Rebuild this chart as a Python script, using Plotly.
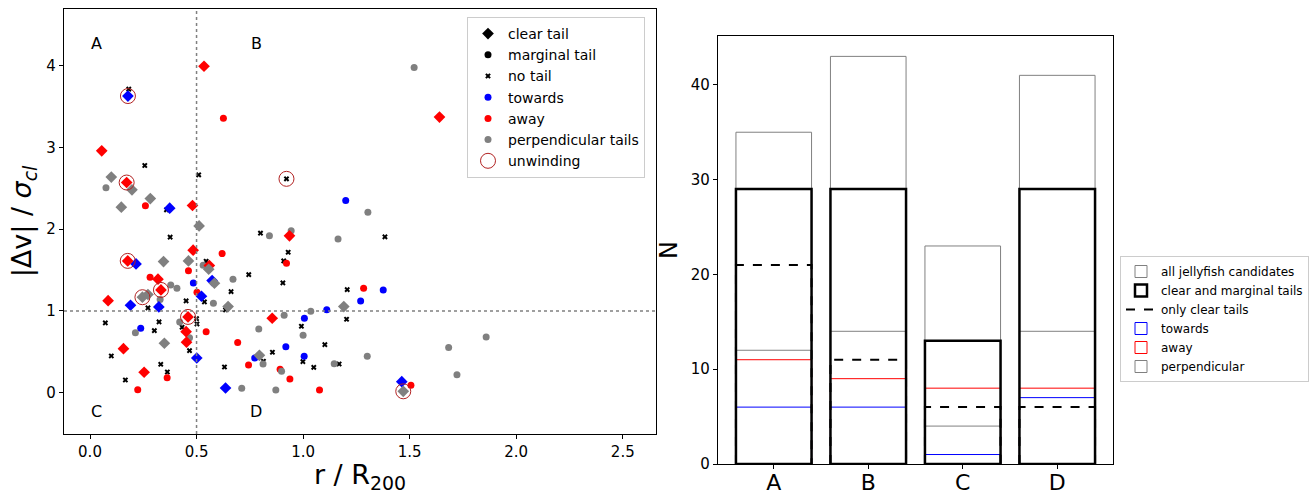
import plotly.graph_objects as go

# ---------------- scatter data (r / R200, |dv| / sigma_cl) ----------------
clear_tow_x = [0.178, 0.374, 0.216, 0.523, 0.573, 0.190, 0.323, 0.501, 0.636, 1.463]
clear_tow_y = [3.626, 2.255, 1.574, 1.179, 1.370, 1.069, 1.048, 0.424, 0.057, 0.135]

marg_tow_x = [1.200, 1.376, 1.270, 0.485, 1.111, 1.006, 0.238, 0.919, 1.005, 0.773]
marg_tow_y = [2.349, 1.256, 1.122, 1.342, 1.015, 0.910, 0.787, 0.563, 0.445, 0.424]

clear_away_x = [0.535, 0.055, 0.172, 0.481, 1.640, 0.484, 0.936, 0.177, 0.560, 0.319,
                0.333, 0.085, 0.460, 0.855, 0.451, 0.453, 0.157, 0.254]
clear_away_y = [3.990, 2.957, 2.569, 2.288, 3.369, 1.742, 1.917, 1.611, 1.554, 1.387,
                1.256, 1.125, 0.926, 0.910, 0.746, 0.617, 0.538, 0.250]

marg_away_x = [0.626, 0.260, 0.620, 0.922, 0.462, 0.282, 0.502, 1.284, 0.545, 0.693,
               0.744, 0.892, 0.938, 0.362, 0.224, 1.077, 1.506]
marg_away_y = [3.356, 2.284, 1.700, 1.583, 1.489, 1.411, 1.228, 1.277, 0.746, 0.612,
               0.339, 0.286, 0.168, 0.184, 0.037, 0.033, 0.090]

clear_perp_x = [0.100, 0.197, 0.283, 0.147, 0.512, 0.345, 0.462, 0.557, 0.584, 0.246,
                0.272, 0.648, 1.191, 0.349, 0.795, 1.470]
clear_perp_y = [2.635, 2.480, 2.373, 2.268, 2.039, 1.603, 1.611, 1.509, 1.338, 1.167,
                1.200, 1.052, 1.052, 0.604, 0.457, 0.017]

marg_perp_x = [0.075, 1.521, 1.304, 1.164, 0.842, 0.944, 0.531, 0.671, 0.379, 0.408,
               0.329, 0.579, 1.036, 0.911, 0.421, 0.213, 0.467, 1.000, 0.792, 0.812,
               1.146, 0.899, 0.712, 0.872, 1.859, 1.683, 1.301, 1.722]
marg_perp_y = [2.504, 3.976, 2.207, 1.880, 1.917, 1.978, 1.558, 1.387, 1.317, 1.277,
               1.138, 1.093, 0.996, 0.946, 0.865, 0.734, 0.673, 0.702, 0.779, 0.351,
               0.355, 0.261, 0.054, 0.033, 0.681, 0.551, 0.445, 0.220]

no_tail_x = [0.182, 0.257, 0.510, 0.922, 0.359, 0.376, 0.800, 0.930, 0.545, 0.909,
             0.745, 0.905, 0.662, 1.207, 1.384, 0.272, 0.451, 0.537, 0.636, 1.204,
             0.500, 0.502, 0.072, 0.324, 0.432, 0.302, 0.992, 1.102, 0.100, 0.467,
             0.856, 0.814, 0.999, 1.050, 1.169, 0.332, 0.631, 0.363, 0.166]
no_tail_y = [3.710, 2.777, 2.663, 2.614, 2.235, 1.901, 1.950, 1.717, 1.607, 1.611,
             1.443, 1.342, 1.236, 1.260, 1.905, 1.036, 1.122, 1.110, 1.012, 0.898,
             0.905, 0.840, 0.853, 0.865, 0.800, 0.758, 0.812, 0.587, 0.449, 0.514,
             0.494, 0.384, 0.379, 0.310, 0.351, 0.347, 0.314, 0.253, 0.155]

unwind_x = [0.178, 0.172, 0.177, 0.333, 0.246, 0.460, 0.922, 1.470]
unwind_y = [3.626, 2.569, 1.611, 1.256, 1.167, 0.926, 2.614, 0.017]

# ---------------- bar data ----------------
regions = ["A", "B", "C", "D"]
n_all = [35, 43, 23, 41]
n_clear_marg = [29, 29, 13, 29]
n_clear = [21, 11, 6, 6]
n_towards = [6, 6, 1, 7]
n_away = [11, 9, 8, 8]
n_perp = [12, 14, 4, 14]

BLUE, RED, GRAY = "#0000ff", "#ff0000", "#808080"
FONT = "DejaVu Sans"
W = 0.8

fig = go.Figure()

def sc(x, y, name, symbol, color, size, show=True, line=None, legend="legend"):
    m = dict(symbol=symbol, color=color, size=size)
    if line:
        m["line"] = line
    fig.add_trace(go.Scatter(x=x, y=y, mode="markers", name=name, marker=m,
                             showlegend=show, xaxis="x", yaxis="y", legend=legend))

# legend-only entries for tail type
sc([None], [None], "clear tail", "diamond", "black", 9)
sc([None], [None], "marginal tail", "circle", "black", 7)
sc(no_tail_x, no_tail_y, "no tail", "x", "black", 5)
sc(marg_tow_x, marg_tow_y, "towards", "circle", BLUE, 7)
sc(marg_away_x, marg_away_y, "away", "circle", RED, 7)
sc(marg_perp_x, marg_perp_y, "perpendicular tails", "circle", GRAY, 7)
sc(clear_tow_x, clear_tow_y, "clear towards", "diamond", BLUE, 9, show=False)
sc(clear_away_x, clear_away_y, "clear away", "diamond", RED, 9, show=False)
sc(clear_perp_x, clear_perp_y, "clear perpendicular", "diamond", GRAY, 9, show=False)
sc(unwind_x, unwind_y, "unwinding", "circle-open", "#b22222", 15,
   line=dict(color="#b22222", width=1))

xs = list(range(len(regions)))

def bar(vals, name, color, width, rank):
    fig.add_trace(go.Bar(x=xs, y=vals, width=W, name=name, xaxis="x2", yaxis="y2",
                         marker=dict(color="rgba(0,0,0,0)", line=dict(color=color, width=width)),
                         legend="legend2", legendrank=rank))

bar(n_all, "all jellyfish candidates", GRAY, 1, 1)
bar(n_towards, "towards", BLUE, 1, 4)
bar(n_away, "away", RED, 1, 5)
bar(n_perp, "perpendicular", GRAY, 1, 6)

# dashed outline for clear-only counts
dx, dy = [], []
for i, v in zip(xs, n_clear):
    dx += [i - W / 2, i - W / 2, i + W / 2, i + W / 2, None]
    dy += [0, v, v, 0, None]
fig.add_trace(go.Scatter(x=dx, y=dy, mode="lines", name="only clear tails",
                         line=dict(color="black", width=2, dash="dash"),
                         xaxis="x2", yaxis="y2", legend="legend2", legendrank=3))
bar(n_clear_marg, "clear and marginal tails", "black", 2.5, 2)

# quadrant lines
fig.add_shape(type="line", xref="x", yref="y domain", x0=0.5, x1=0.5, y0=0, y1=1,
              line=dict(color="gray", width=1.5, dash="dot"))
fig.add_shape(type="line", xref="x domain", yref="y", x0=0, x1=1, y0=1, y1=1,
              line=dict(color="gray", width=1.5, dash="dot"))

for lab, ax, ay in [("A", 0.03, 4.27), ("B", 0.78, 4.27), ("C", 0.03, -0.23), ("D", 0.78, -0.23)]:
    fig.add_annotation(x=ax, y=ay, xref="x", yref="y", text=lab, showarrow=False,
                       font=dict(size=16, color="black", family=FONT))

axis_common = dict(showline=True, linecolor="black", linewidth=1.2, mirror=True,
                   ticks="outside", ticklen=4, tickcolor="black", showgrid=False,
                   zeroline=False, automargin=False,
                   tickfont=dict(size=15, color="black", family=FONT))

fig.update_layout(
    width=1315, height=494,
    margin=dict(l=0, r=0, t=0, b=0, autoexpand=False),
    paper_bgcolor="white", plot_bgcolor="white",
    font=dict(family=FONT, color="black"),
    barmode="overlay",
    xaxis=dict(domain=[64 / 1315, 656 / 1315], range=[-0.122, 2.656],
               tickvals=[0, 0.5, 1.0, 1.5, 2.0, 2.5],
               ticktext=["0.0", "0.5", "1.0", "1.5", "2.0", "2.5"],
               title=dict(text="r / R<sub>200</sub>", font=dict(size=27, family=FONT), standoff=8),
               anchor="y", **axis_common),
    yaxis=dict(domain=[1 - 434 / 494, 1 - 9 / 494], range=[-0.505, 4.69],
               tickvals=[0, 1, 2, 3, 4],
               title=dict(text="|Δv| / <i>σ<sub>cl</sub></i>", font=dict(size=27, family=FONT), standoff=6),
               anchor="x", **axis_common),
    xaxis2=dict(domain=[718 / 1315, 1113 / 1315], range=[-0.59, 3.59],
                tickvals=xs, ticktext=regions, anchor="y2", ticklabelstandoff=-6,
                **{**axis_common, "tickfont": dict(size=22, color="black", family=FONT)}),
    yaxis2=dict(domain=[1 - 464 / 494, 1 - 36 / 494], range=[0, 45.15],
                tickvals=[0, 10, 20, 30, 40], anchor="x2",
                title=dict(text="N", font=dict(size=24, family=FONT), standoff=6),
                **axis_common),
    legend=dict(x=467 / 1315, y=1 - 17 / 494, xanchor="left", yanchor="top",
                bgcolor="white", bordercolor="#cccccc", borderwidth=1,
                font=dict(size=14, family=FONT, color="black"), tracegroupgap=0),
    legend2=dict(x=1120 / 1315, y=1 - 256 / 494, xanchor="left", yanchor="top",
                 bgcolor="white", bordercolor="#cccccc", borderwidth=1,
                 font=dict(size=12, family=FONT, color="black"), tracegroupgap=0),
)

fig.write_html("out.html", config={"displayModeBar": False},
               post_script="document.body.style.margin='0';document.body.style.overflow='hidden';")
